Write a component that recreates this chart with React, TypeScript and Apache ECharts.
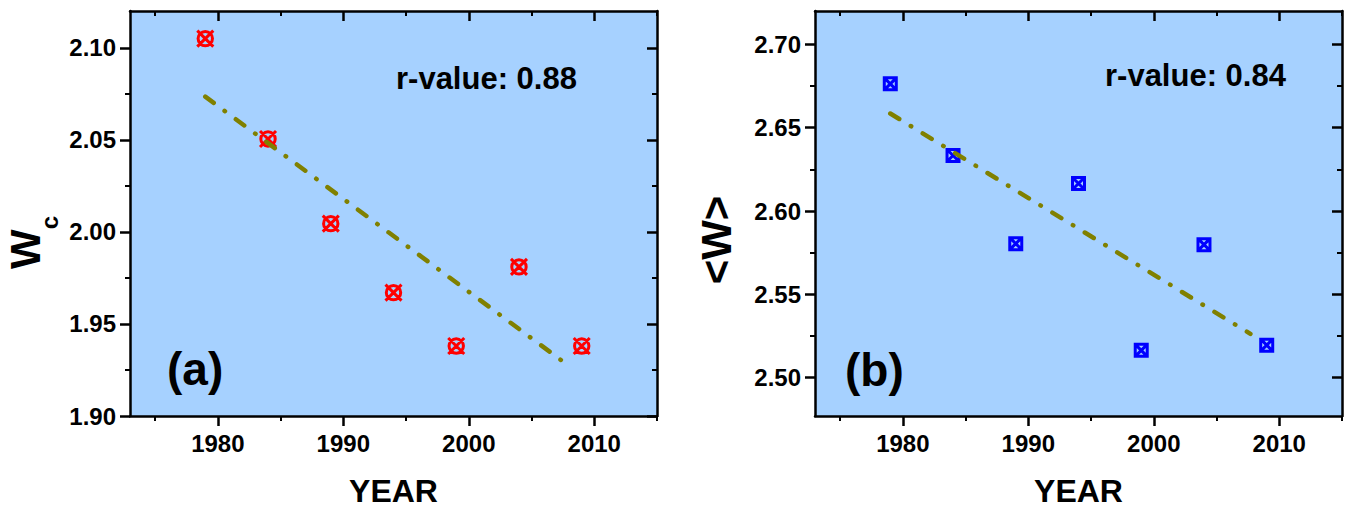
import React, { useEffect, useRef } from 'react';
import * as echarts from 'echarts';

// ---- data ----
const years = [1979, 1984, 1989, 1994, 1999, 2004, 2009];
const wcValues = [2.105, 2.0505, 2.0045, 1.967, 1.938, 1.981, 1.938];
const wMeanValues = [2.6763, 2.6333, 2.5804, 2.6165, 2.5164, 2.5798, 2.5195];
const fitYearsA = [1979, 2007.7];
const fitValuesA = [2.0735, 1.9286];
const fitYearsB = [1979, 2007.7];
const fitValuesB = [2.6585, 2.5263];
const xMajorTicks = [1980, 1990, 2000, 2010];
const xMinorTicks = [1975, 1985, 1995, 2005, 2015];
const yMajorTicksA = [1.9, 1.95, 2.0, 2.05, 2.1];
const yMinorTicksA = [1.925, 1.975, 2.025, 2.075];
const yMajorTicksB = [2.5, 2.55, 2.6, 2.65, 2.7];
const yMinorTicksB = [2.525, 2.575, 2.625, 2.675];
const xLabelName = 'YEAR';
const rValueA = 'r-value: 0.88';
const rValueB = 'r-value: 0.84';
const panelA = '(a)';
const panelB = '(b)';

const FONT = '"Liberation Sans", Arial, sans-serif';
const BG = '#A6D1FF';
const OLIVE = '#808000';
const lineW = 2.5;

const circleX =
  'path://M0,0L20,20M20,0L0,20M1,10A9,9,0,1,1,19,10A9,9,0,1,1,1,10Z';
const squareX = 'path://M0,0L20,0L20,20L0,20ZM0,0L20,20M20,0L0,20';

function buildXAxes(gridIndex: number) {
  const base = {
    type: 'value',
    gridIndex,
    min: 1973,
    max: 2015,
    splitLine: { show: false },
  };
  const lineOn = { show: true, onZero: false, lineStyle: { color: '#000', width: lineW } };
  const lineOff = { show: false, onZero: false };
  return [
    {
      ...base,
      position: 'bottom',
      name: xLabelName,
      nameLocation: 'middle',
      nameGap: 59,
      nameTextStyle: { fontFamily: FONT, fontWeight: 'bold', fontSize: 32, color: '#000' },
      axisLine: lineOn,
      axisTick: { show: true, customValues: xMajorTicks, length: 10, lineStyle: { color: '#000', width: lineW } },
      axisLabel: {
        show: true,
        customValues: xMajorTicks,
        margin: 15,
        fontSize: 24,
        fontWeight: 'bold',
        color: '#000',
        fontFamily: FONT,
        formatter: (v: number) => String(Math.round(v)),
      },
    },
    {
      ...base,
      position: 'top',
      axisLine: lineOn,
      axisTick: { show: true, inside: true, customValues: xMajorTicks, length: 10, lineStyle: { color: '#000', width: lineW } },
      axisLabel: { show: false },
    },
    {
      ...base,
      position: 'bottom',
      axisLine: lineOff,
      axisTick: { show: true, customValues: xMinorTicks, length: 5, lineStyle: { color: '#000', width: 2 } },
      axisLabel: { show: false },
    },
    {
      ...base,
      position: 'top',
      axisLine: lineOff,
      axisTick: { show: true, inside: true, customValues: xMinorTicks, length: 5, lineStyle: { color: '#000', width: 2 } },
      axisLabel: { show: false },
    },
  ];
}

function buildYAxes(
  gridIndex: number,
  min: number,
  max: number,
  major: number[],
  minor: number[],
  name: string,
  nameGap: number,
  nameTextStyle: any
) {
  const base = {
    type: 'value',
    gridIndex,
    min,
    max,
    splitLine: { show: false },
  };
  const lineOn = { show: true, onZero: false, lineStyle: { color: '#000', width: lineW } };
  const lineOff = { show: false, onZero: false };
  return [
    {
      ...base,
      position: 'left',
      name,
      nameLocation: 'middle',
      nameRotate: 90,
      nameGap,
      nameTextStyle,
      axisLine: lineOn,
      axisTick: { show: true, customValues: major, length: 10, lineStyle: { color: '#000', width: lineW } },
      axisLabel: {
        show: true,
        customValues: major,
        margin: 14,
        fontSize: 24,
        fontWeight: 'bold',
        color: '#000',
        fontFamily: FONT,
        formatter: (v: number) => v.toFixed(2),
      },
    },
    {
      ...base,
      position: 'right',
      axisLine: lineOn,
      axisTick: { show: true, inside: true, customValues: major, length: 10, lineStyle: { color: '#000', width: lineW } },
      axisLabel: { show: false },
    },
    {
      ...base,
      position: 'left',
      axisLine: lineOff,
      axisTick: { show: true, customValues: minor, length: 5, lineStyle: { color: '#000', width: 2 } },
      axisLabel: { show: false },
    },
    {
      ...base,
      position: 'right',
      axisLine: lineOff,
      axisTick: { show: true, inside: true, customValues: minor, length: 5, lineStyle: { color: '#000', width: 2 } },
      axisLabel: { show: false },
    },
  ];
}

export default function App() {
  const ref = useRef<HTMLDivElement>(null);

  useEffect(() => {
    if (!ref.current) return;
    const chart = echarts.init(ref.current, undefined, { renderer: 'svg' });

    const nameStyleA = {
      fontFamily: FONT,
      fontWeight: 'bold',
      fontSize: 42,
      color: '#000',
      padding: [0, 58, 0, 0],
      rich: {
        w: { fontFamily: FONT, fontWeight: 'bold', fontSize: 42, lineHeight: 72, color: '#000' },
        c: { fontFamily: FONT, fontWeight: 'bold', fontSize: 24, lineHeight: 24, verticalAlign: 'bottom', color: '#000' },
      },
    };
    const nameStyleB = {
      fontFamily: FONT,
      fontWeight: 'bold',
      fontSize: 42,
      lineHeight: 42,
      color: '#000',
      padding: [0, 53, 0, 0],
    };

    const lineStyleFit = {
      color: OLIVE,
      width: 4.5,
      type: [10.5, 13.5, 0.5, 13.5],
      cap: 'round',
    };

    const option: any = {
      animation: false,
      grid: [
        { left: 130, top: 11, width: 527, height: 411, show: true, backgroundColor: BG, borderWidth: 0 },
        { left: 815, top: 11, width: 527, height: 411, show: true, backgroundColor: BG, borderWidth: 0 },
      ],
      xAxis: [...buildXAxes(0), ...buildXAxes(1)],
      yAxis: [
        ...buildYAxes(0, 1.9, 2.12, yMajorTicksA, yMinorTicksA, '{w|W}{c|c}', 69, nameStyleA),
        ...buildYAxes(1, 2.477, 2.72, yMajorTicksB, yMinorTicksB, '<W>', 78, nameStyleB),
      ],
      series: [
        {
          type: 'scatter',
          xAxisIndex: 0,
          yAxisIndex: 0,
          symbol: circleX,
          symbolSize: 16,
          itemStyle: { color: 'rgba(0,0,0,0)', borderColor: '#FF0000', borderWidth: 3, opacity: 1 },
          data: years.map((y, i) => [y, wcValues[i]]),
          z: 3,
        },
        {
          type: 'line',
          xAxisIndex: 0,
          yAxisIndex: 0,
          symbol: 'none',
          lineStyle: lineStyleFit,
          data: fitYearsA.map((y, i) => [y, fitValuesA[i]]),
          z: 4,
        },
        {
          type: 'scatter',
          xAxisIndex: 4,
          yAxisIndex: 4,
          symbol: squareX,
          symbolSize: 12,
          itemStyle: { color: 'rgba(0,0,0,0)', borderColor: '#0000FF', borderWidth: 3, opacity: 1 },
          data: years.map((y, i) => [y, wMeanValues[i]]),
          z: 3,
        },
        {
          type: 'line',
          xAxisIndex: 4,
          yAxisIndex: 4,
          symbol: 'none',
          lineStyle: lineStyleFit,
          data: fitYearsB.map((y, i) => [y, fitValuesB[i]]),
          z: 4,
        },
      ],
      graphic: [
        {
          type: 'text',
          x: 396,
          y: 78,
          z: 10,
          style: { text: rValueA, fill: '#000', font: `bold 31px ${FONT}`, align: 'left', verticalAlign: 'middle' },
        },
        {
          type: 'text',
          x: 1105,
          y: 75,
          z: 10,
          style: { text: rValueB, fill: '#000', font: `bold 31px ${FONT}`, align: 'left', verticalAlign: 'middle' },
        },
        {
          type: 'text',
          x: 167,
          y: 369,
          z: 10,
          style: { text: panelA, fill: '#000', font: `bold 46px ${FONT}`, align: 'left', verticalAlign: 'middle' },
        },
        {
          type: 'text',
          x: 845,
          y: 370,
          z: 10,
          style: { text: panelB, fill: '#000', font: `bold 46px ${FONT}`, align: 'left', verticalAlign: 'middle' },
        },
      ],
    };

    chart.setOption(option);
    return () => chart.dispose();
  }, []);

  return (
    <div
      ref={ref}
      style={{ position: 'fixed', left: 0, top: 0, width: 1348, height: 512, background: '#fff' }}
    />
  );
}
